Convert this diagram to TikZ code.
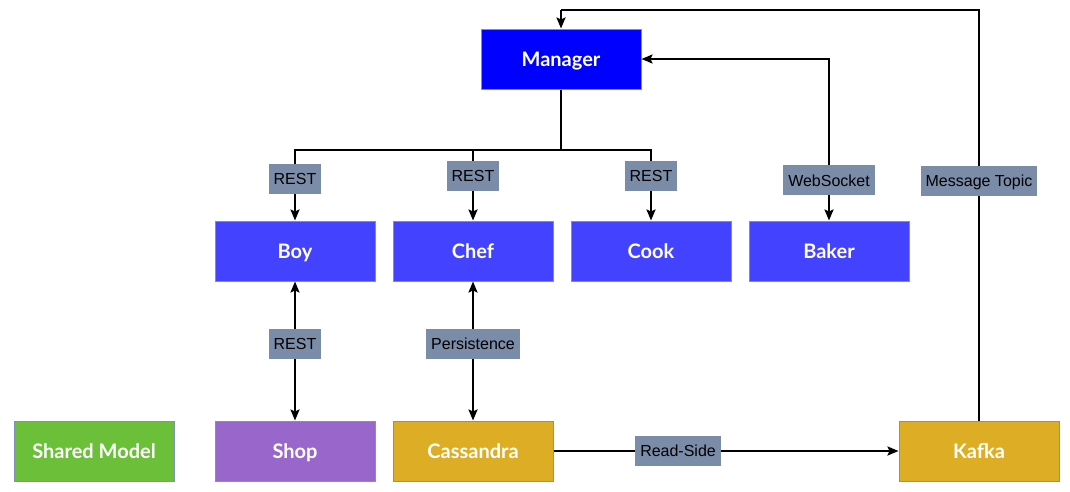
\documentclass[tikz,border=0pt]{standalone}
\usepackage{fontspec}
\setmainfont{Liberation Sans}
\newfontfamily\boxfont{Lato}
\usetikzlibrary{arrows.meta}
\definecolor{mgrc}{HTML}{0000FF}
\definecolor{svc}{HTML}{4343FF}
\definecolor{greenc}{HTML}{6CBF38}
\definecolor{shopc}{HTML}{9966CC}
\definecolor{goldc}{HTML}{DEAD26}
\definecolor{lblc}{HTML}{7B8CA9}
\definecolor{edgec}{HTML}{7F90C0}
\begin{document}
\begin{tikzpicture}[x=1pt,y=-1pt,
  box/.style={draw=edgec, line width=1pt, minimum width=160pt, minimum height=60pt, inner sep=0pt,
    text height=14.5pt, text depth=0pt,
    font=\boxfont\bfseries\fontsize{20}{24}\selectfont, text=white},
  lbl/.style={fill=lblc, inner xsep=5pt, inner ysep=0pt, minimum height=30pt,
    text height=11.5pt, text depth=0pt,
    font=\fontsize{16}{19}\selectfont, text=black},
  conn/.style={line width=2pt, draw=black},
  tip/.style={-{Stealth[length=11pt,width=9pt,inset=2pt]}},
  bothtip/.style={{Stealth[length=11pt,width=9pt,inset=2pt]}-{Stealth[length=11pt,width=9pt,inset=2pt]}}
]
\useasboundingbox (0,0) rectangle (1070,491);
% nodes
\node[box, fill=mgrc] (mgr) at (561,59) {Manager};
\node[box, fill=svc] (boy) at (295,251) {Boy};
\node[box, fill=svc] (chef) at (473,251) {Chef};
\node[box, fill=svc] (cook) at (651,251) {Cook};
\node[box, fill=svc] (baker) at (829,251) {Baker};
\node[box, fill=greenc] (shared) at (94,451) {Shared Model};
\node[box, fill=shopc] (shop) at (295,451) {Shop};
\node[box, fill=goldc] (cass) at (473,451) {Cassandra};
\node[box, fill=goldc] (kafka) at (979,451) {Kafka};
% coordinates
\coordinate (hub) at (561,150);
\coordinate (tr) at (979,10);
\coordinate (tl) at (561,10);
% connectors
\draw[conn] (mgr.south) -- (hub);
\draw[conn, tip] (hub) -| node[lbl, pos=0.707] (l1) {REST} (boy.north);
\draw[conn, tip] (hub) -| node[lbl, pos=0.683] (l2) {REST} (chef.north);
\draw[conn, tip] (hub) -| node[lbl, pos=0.683] (l3) {REST} (cook.north);
\draw[conn, bothtip] (mgr.east) -| node[lbl, pos=0.876] (l4) {WebSocket} (baker.north);
\draw[conn] (kafka.north) -- node[lbl, pos=0.584] (l5) {Message Topic} (tr) -- (tl);
\draw[conn, tip] (tl) -- (mgr.north);
\draw[conn, bothtip] (boy.south) -- node[lbl, pos=0.446] (l6) {REST} (shop.north);
\draw[conn, bothtip] (chef.south) -- node[lbl, pos=0.45] (l7) {Persistence} (cass.north);
\draw[conn, tip] (cass.east) -- node[lbl, pos=0.361] (l8) {Read-Side} (kafka.west);
\end{tikzpicture}
\end{document}
